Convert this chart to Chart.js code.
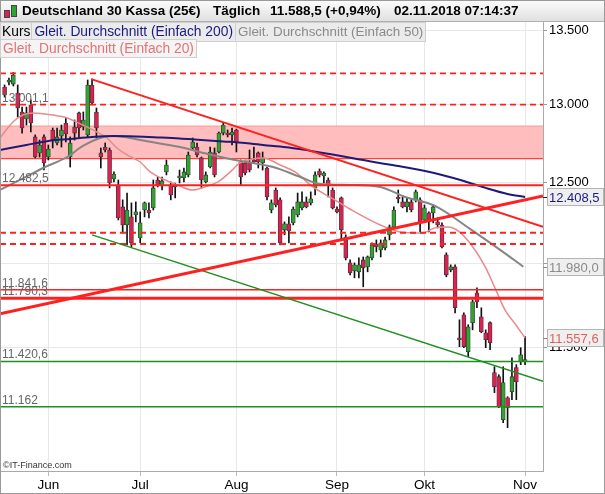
<!DOCTYPE html>
<html>
<head>
<meta charset="utf-8">
<script src="https://cdn.jsdelivr.net/npm/chart.js@4.4.1/dist/chart.umd.min.js"></script>
<style>
  body { margin: 0; background: #fff; font-family: "Liberation Sans", Arial, sans-serif; }
  #wrap { position: relative; width: 605px; height: 494px; }
  #head { position: absolute; left: 1px; top: 1px; width: 603px; height: 20px;
          background: linear-gradient(#fbfbfb, #e0e0e0); border-bottom: 1px solid #b0b0b0;
          font-weight: bold; font-size: 13.5px; color: #000; }
  #head span { position: absolute; top: 2px; white-space: nowrap; }
  .ic { position: absolute; width: 4px; border: 1px solid #444; }
  #legrow { position: absolute; left: 0; top: 22px; display: flex; }
  .leg { font-size: 13.8px; height: 18px; line-height: 18px; white-space: nowrap;
         background: #ebebeb; border: 1px solid #cfcfcf; padding: 0 2px; margin-right: -1px; }
  #leg20 { position: absolute; left: 0; top: 39px; height: 17px; line-height: 17px; color: #e57373;
           background: #f4f4f4; }
  #copy { position: absolute; left: 3px; top: 460px; font-size: 9px; color: #333; }
</style>
</head>
<body>
<div id="wrap">
  <canvas id="c" width="605" height="494"></canvas>
  <div id="head">
    <div class="ic" style="left:3px;top:9px;height:6px;background:#e01e50"></div>
    <div class="ic" style="left:10px;top:4px;height:10px;background:#2ea52e"></div>
    <span style="left:21px">Deutschland 30 Kassa (25€)</span>
    <span style="left:212px">Täglich</span>
    <span style="left:269px">11.588,5 (+0,94%)</span>
    <span style="left:393px">02.11.2018 07:14:37</span>
  </div>
  <div id="legrow">
    <div class="leg" style="color:#000;padding:0 1px">Kurs</div>
    <div class="leg" style="color:#1a1a80">Gleit. Durchschnitt (Einfach 200)</div>
    <div class="leg" style="color:#8a8a8a;font-size:13.4px">Gleit. Durchschnitt (Einfach 50)</div>
  </div>
  <div class="leg" id="leg20">Gleit. Durchschnitt (Einfach 20)</div>
  <div id="copy">©IT-Finance.com</div>
</div>
<script>
// daily candles, mid May .. 1 Nov 2018
const open = [13117,13150,13137,13078,12953,12907,12999,12791,12688,12791,
  12662,12836,12752,12797,12881,12662,12855,12947,12855,12804,
  13131,12953,12688,12726,12707,12522,12485,12347,12235,12285,
  12297,12155,12328,12328,12341,12516,12478,12567,12485,12485,
  12529,12529,12548,12720,12726,12656,12504,12598,12688,12694,
  12816,12816,12804,12836,12630,12624,12624,12643,12688,12624,
  12592,12328,12453,12391,12205,12242,12248,12297,12341,12378,
  12372,12466,12573,12541,12516,12453,12334,12403,12161,12003,
  11955,11949,12021,11979,12033,12118,12082,12094,12174,12223,
  12409,12378,12347,12378,12391,12391,12266,12310,12310,12254,
  12235,12052,11961,11979,11558,11693,11477,11646,11823,11681,
  11587,11646,11356,11333,11090,11213,11247,11385,11419,11420];
const high = [13131,13177,13214,13131,12985,12985,13032,12804,12771,12804,
  12739,12849,12849,12868,12914,12791,12901,12953,12953,13164,
  13170,12979,12720,12752,12720,12567,12516,12391,12434,12372,
  12378,12316,12378,12372,12516,12535,12535,12643,12504,12497,
  12579,12592,12694,12784,12752,12662,12567,12726,12720,12823,
  12881,12836,12849,12842,12643,12643,12707,12726,12694,12694,
  12598,12391,12466,12403,12254,12285,12347,12434,12441,12409,
  12441,12567,12586,12567,12529,12466,12347,12409,12174,12021,
  12003,12033,12039,12045,12125,12143,12143,12161,12235,12347,
  12453,12409,12403,12397,12453,12403,12359,12316,12359,12279,
  12248,12064,11991,11991,11663,11704,11634,11781,11853,11734,
  11604,11651,11390,11344,11390,11219,11442,11402,11500,11564];
const low = [13051,13131,13124,12920,12816,12868,12823,12656,12662,12579,
  12643,12720,12739,12726,12758,12598,12771,12791,12836,12791,
  12999,12784,12592,12694,12466,12504,12266,12186,12112,12100,
  12254,12125,12285,12279,12328,12472,12453,12548,12391,12403,
  12497,12504,12535,12707,12662,12466,12497,12592,12535,12688,
  12804,12791,12739,12694,12485,12548,12567,12624,12592,12579,
  12391,12310,12347,12112,12174,12125,12235,12285,12328,12341,
  12359,12422,12535,12497,12409,12334,12310,12143,12021,11931,
  11913,11913,11859,11949,12021,12070,12039,12082,12143,12217,
  12372,12341,12316,12316,12378,12192,12254,12192,12248,12217,
  12094,11919,11949,11704,11506,11500,11448,11604,11734,11587,
  11500,11488,11242,11157,11073,11045,11202,11202,11402,11402];
const close = [13065,13164,13197,12979,12849,12947,12881,12662,12739,12624,
  12713,12771,12791,12836,12810,12752,12816,12849,12901,13131,
  13012,12849,12662,12707,12497,12554,12279,12235,12328,12125,
  12316,12248,12372,12310,12466,12485,12510,12611,12422,12472,
  12541,12567,12675,12758,12675,12516,12548,12694,12548,12816,
  12868,12804,12823,12752,12535,12560,12579,12630,12630,12656,
  12409,12372,12359,12125,12242,12198,12334,12378,12378,12347,
  12397,12548,12548,12560,12485,12341,12316,12205,12033,11943,
  11991,11991,11973,12039,12112,12100,12125,12143,12223,12328,
  12397,12347,12378,12328,12441,12254,12341,12254,12347,12235,
  12100,11931,11979,11734,11546,11506,11622,11769,11769,11593,
  11546,11529,11276,11163,11299,11157,11333,11304,11459,11431];

// first trading day of each month (candle index) and its label
const monthStart = [10, 31, 53, 76, 96, 119];
const monthLabels = ['Jun', 'Jul', 'Aug', 'Sep', 'Okt', 'Nov'];
const yTicks = [11500, 12000, 12500, 13000, 13500];

// moving averages: [candle index, value]
const ma200 = [[-1.05,12707],[5,12739],[10,12765],[15,12778],[20,12791],[25,12797],[30,12794],
  [35,12788],[40,12781],[45,12771],[50,12762],[55,12752],[60,12736],[65,12723],[70,12701],
  [75,12678],[80,12653],[85,12627],[90,12605],[95,12579],[100,12548],[105,12510],[110,12466],
  [115,12428],[119,12408.5]];
const ma50 = [[-1.05,12453],[3.5,12516],[8.8,12592],[14.3,12662],[17.9,12733],[21.8,12784],
  [24.1,12797],[27.5,12791],[31,12771],[40.1,12726],[47.4,12675],[52.7,12643],[61.4,12598],
  [67.6,12535],[72.1,12491],[79,12485],[85.9,12472],[91.6,12409],[98.4,12353],[106.4,12211],
  [113.3,12082],[118.6,11980]];
const ma20 = [[-1.05,12784],[1.9,12888],[4.2,12933],[6.5,12947],[11.1,12933],[14.3,12914],
  [17.9,12868],[21.1,12823],[23.4,12784],[25.7,12720],[28,12675],[31,12630],[33.3,12567],
  [36.7,12516],[40.1,12478],[42.9,12453],[45.8,12472],[48.8,12504],[51.6,12567],[53.8,12624],
  [56.6,12649],[59.1,12656],[63,12611],[66.4,12567],[70.5,12472],[75.1,12397],[79.7,12322],
  [85.9,12235],[90.4,12192],[95.5,12186],[98.4,12217],[101.4,12223],[103.7,12198],[106.9,12106],
  [109.9,11979],[112.2,11847],[114.4,11722],[116.7,11640],[119,11557.6]];

// horizontal levels
const dashedLevels = [13208, 13001.1, 12187, 12118];
const zoneTop = 12860, zoneBottom = 12652;
const redLevels = [12482.5, 11841.6, 11790.3];
const greenLevels = [11420.6, 11162];
const lineLabels = [['13.001,1', 13001.1], ['12.482,5', 12482.5], ['11.841,6', 11841.6],
  ['11.790,3', 11790.3], ['11.420,6', 11420.6], ['11.162', 11162]];

// trend lines: [candle index, value]
const trendDown = [[19.8, 13170], [123.1, 12223]];
const trendUp = [[-1.05, 11698], [123.1, 12415]];
const trendGreen = [[20, 12174], [123.1, 11306]];

const valueBoxes = [['12.408,5', 12408.5, '#1a1a80'], ['11.980,0', 11980, '#8a8a8a'], ['11.557,6', 11557.6, '#e06060']];

const X_MIN = -1.05, X_MAX = 123.1;
const fmt = v => String(v).replace(/\B(?=(\d{3})+(?!\d))/g, '.');
const pts = arr => arr.map(p => ({x: p[0], y: p[1]}));

const wicks = open.map((o, i) => ({x: i, y: [low[i], high[i]]}));
const bodies = open.map((o, i) => ({x: i, y: [o, close[i]]}));
const bodyColors = open.map((o, i) => close[i] >= o ? '#2ea52e' : '#e01e50');

function hline(v, color, width, dash, order) {
  return {type: 'line', data: [{x: X_MIN, y: v}, {x: X_MAX, y: v}], borderColor: color,
    borderWidth: width, borderDash: dash || [], pointRadius: 0, order: order || 2};
}
function curve(arr, color, width, order) {
  return {type: 'line', data: pts(arr), borderColor: color, borderWidth: width, pointRadius: 0,
    cubicInterpolationMode: 'monotone', order: order};
}

const datasets = [
  {type: 'line', data: [{x: X_MIN, y: zoneTop}, {x: X_MAX, y: zoneTop}], borderColor: '#ff4040',
    borderWidth: 1.2, pointRadius: 0, fill: false, order: 20},
  {type: 'line', data: [{x: X_MIN, y: zoneBottom}, {x: X_MAX, y: zoneBottom}], borderColor: '#ff4040',
    borderWidth: 1.2, pointRadius: 0, fill: '-1', backgroundColor: '#ffbdbd', order: 19},
  {type: 'bar', data: wicks, backgroundColor: '#111', barThickness: 1, grouped: false, order: 9},
  {type: 'bar', data: bodies, backgroundColor: bodyColors, borderColor: '#3a3a3a', borderWidth: 0.8,
    borderSkipped: false, barThickness: 4, grouped: false, order: 8},
  curve(ma50, '#858585', 2, 5),
  curve(ma200, '#1c1c78', 2, 4),
  curve(ma20, '#e98a8a', 1.5, 6),
  ...dashedLevels.map(v => hline(v, '#ff2020', 1.8, [6, 4], 3)),
  hline(redLevels[0], '#ff2020', 2, null, 3),
  hline(redLevels[1], '#ff2020', 1.5, null, 3),
  hline(redLevels[2], '#ff2020', 3, null, 3),
  ...greenLevels.map(v => hline(v, '#1f8f1f', 1.5, null, 3)),
  {type: 'line', data: pts(trendDown), borderColor: '#ff2020', borderWidth: 2, pointRadius: 0, order: 1},
  {type: 'line', data: pts(trendUp), borderColor: '#ff2020', borderWidth: 3, pointRadius: 0, order: 1},
  {type: 'line', data: pts(trendGreen), borderColor: '#1f8f1f', borderWidth: 1.5, pointRadius: 0, order: 1}
];

const extras = {
  id: 'extras',
  afterDraw(chart) {
    const ctx = chart.ctx, y = chart.scales.y, area = chart.chartArea;
    ctx.save();
    ctx.font = '12px "Liberation Sans", Arial, sans-serif';
    ctx.fillStyle = '#666';
    ctx.textBaseline = 'alphabetic';
    lineLabels.forEach(([t, v]) => ctx.fillText(t, 2, y.getPixelForValue(v) - 3));
    ctx.font = '13px "Liberation Sans", Arial, sans-serif';
    ctx.textBaseline = 'middle';
    valueBoxes.forEach(([t, v, c]) => {
      const py = Math.round(y.getPixelForValue(v));
      ctx.fillStyle = '#efefef';
      ctx.fillRect(area.right + 4, py - 9, 57, 18);
      ctx.strokeStyle = '#b5b5b5';
      ctx.lineWidth = 1;
      ctx.strokeRect(area.right + 4.5, py - 8.5, 56, 17);
      ctx.strokeStyle = c;
      ctx.beginPath(); ctx.moveTo(area.right, py + 0.5); ctx.lineTo(area.right + 4, py + 0.5); ctx.stroke();
      ctx.fillStyle = c;
      ctx.fillText(t, area.right + 6, py + 1);
    });
    ctx.strokeStyle = '#9a9a9a';
    ctx.strokeRect(0.5, 0.5, 604, 493);
    ctx.restore();
  }
};

new Chart(document.getElementById('c'), {
  type: 'bar',
  data: {datasets},
  plugins: [extras],
  options: {
    responsive: false,
    animation: false,
    devicePixelRatio: 1,
    layout: {padding: {top: 22, left: 0, right: 0, bottom: 0}},
    plugins: {legend: {display: false}, tooltip: {enabled: false}},
    scales: {
      x: {
        type: 'linear', min: X_MIN, max: X_MAX, offset: false,
        afterBuildTicks: s => { s.ticks = monthStart.map(v => ({value: v})); },
        afterFit: s => { s.height = 23; },
        grid: {color: '#e8e8e8', offset: false, tickLength: 5, tickColor: '#bbb'},
        border: {color: '#aaa'},
        ticks: {autoSkip: false, maxRotation: 0, color: '#000', padding: 1,
          font: {family: '"Liberation Sans", Arial, sans-serif', size: 13.5},
          callback: v => monthLabels[monthStart.indexOf(v)] || ''}
      },
      y: {
        type: 'logarithmic', position: 'right', min: 10806, max: 13555,
        afterBuildTicks: s => { s.ticks = yTicks.map(v => ({value: v})); },
        afterFit: s => { s.width = 62; },
        grid: {color: '#e8e8e8', tickLength: 4, tickColor: '#999'},
        border: {color: '#aaa'},
        ticks: {color: '#000', padding: 2, font: {family: '"Liberation Sans", Arial, sans-serif', size: 13},
          callback: v => fmt(v)}
      }
    }
  }
});
</script>
</body>
</html>
